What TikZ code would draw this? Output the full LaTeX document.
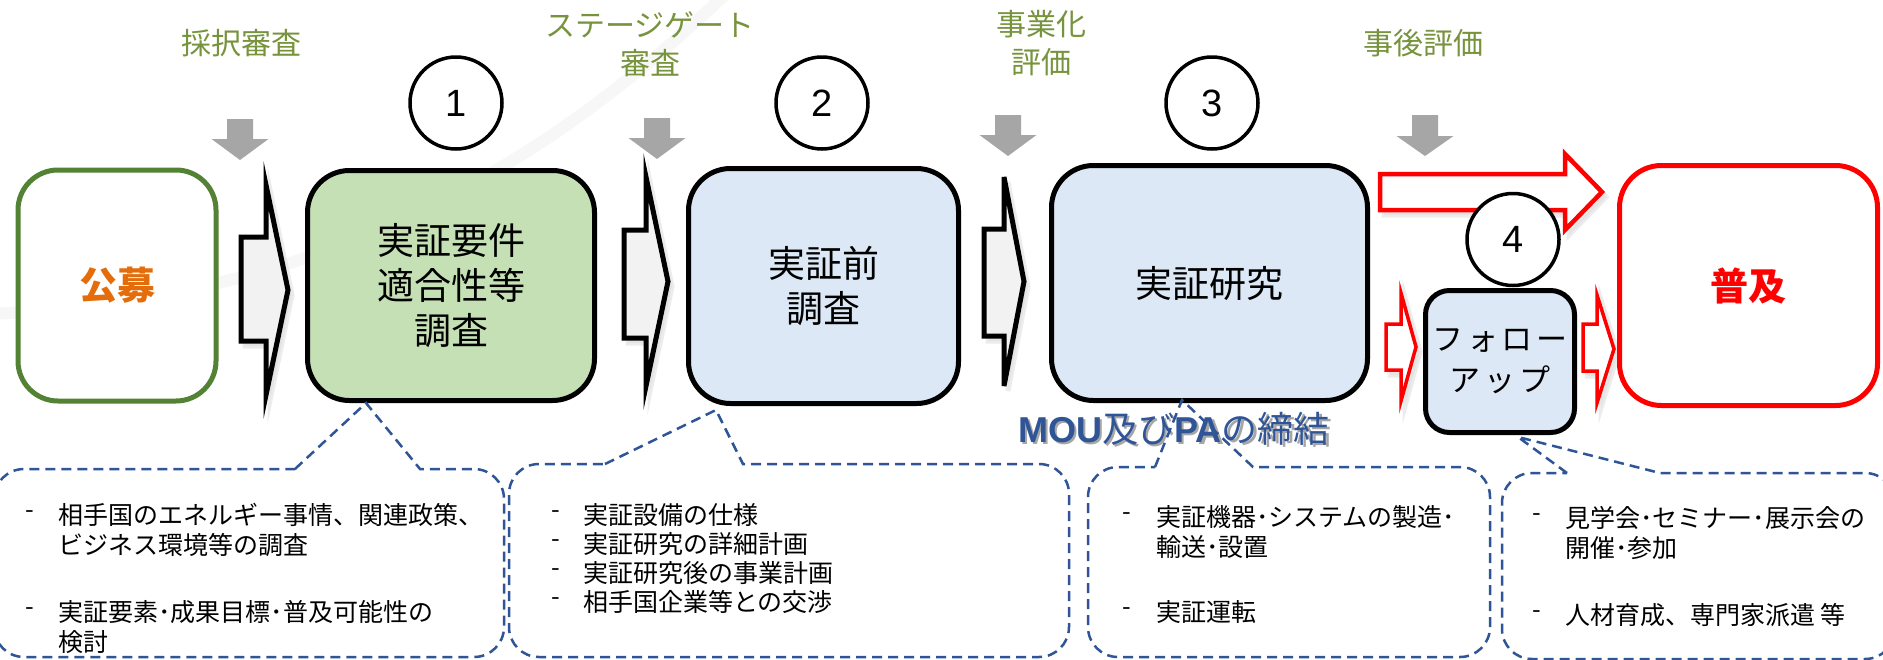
\documentclass[tikz,border=0pt]{standalone}
\usepackage{fontspec}
\setmainfont{Noto Sans CJK JP}
\newfontfamily\jp{Noto Sans CJK JP}
\newfontfamily\ar{Liberation Sans}
\definecolor{lblgreen}{RGB}{119,147,60}
\definecolor{bxgreen}{RGB}{197,224,180}
\definecolor{bxblue}{RGB}{220,232,245}
\definecolor{frgreen}{RGB}{84,130,53}
\definecolor{orng}{RGB}{228,108,10}
\definecolor{dblue}{RGB}{47,85,151}
\definecolor{arrgray}{RGB}{166,166,166}
\definecolor{arrfill}{RGB}{242,242,242}
\newcommand\grayarr[4]{\fill[arrgray] ({#1-13},#2) -- ({#1+13},#2) -- ({#1+13},#3) -- ({#1+28.5},#3) -- (#1,#4) -- ({#1-28.5},#3) -- ({#1-13},#3) -- cycle;}
\newcommand\blockarr[8]{\draw[#1] (#2,#7) -- (#3,#7) -- (#3,#5) -- (#4,{(#5+#6)/2}) -- (#3,#6) -- (#3,#8) -- (#2,#8) -- cycle;}
\newcommand\calloutshape[8]{%
\draw[cbox] (#5,#3) -- (#7,#8) -- (#6,#3) -- ({#2-30},#3) .. controls ({#2-13.4},#3) and (#2,{#3+13.4}) .. (#2,{#3+30}) -- (#2,{#4-30}) .. controls (#2,{#4-13.4}) and ({#2-13.4},#4) .. ({#2-30},#4) -- ({#1+30},#4) .. controls ({#1+13.4},#4) and (#1,{#4-13.4}) .. (#1,{#4-30}) -- (#1,{#3+30}) .. controls (#1,{#3+13.4}) and ({#1+13.4},#3) .. ({#1+30},#3) -- cycle;}
\begin{document}
\begin{tikzpicture}[x=1pt,y=-1pt,
  lbl/.style={text=lblgreen, font={\jp\fontsize{30}{38}\selectfont}, align=center, inner sep=0pt},
  box/.style={draw=black, line width=5pt, rounded corners=42pt, align=center, font={\jp\fontsize{37}{45}\selectfont}},
  circ/.style={circle, draw=black, line width=3.5pt, fill=white, minimum size=92pt, inner sep=0pt, font={\ar\fontsize{38}{40}\selectfont}},
  blk/.style={draw=black, fill=arrfill, line width=5pt, line join=miter},
  redar/.style={draw=red, fill=white, line width=4.5pt, line join=miter},
  redsm/.style={draw=red, fill=white, line width=3.5pt, line join=miter},
  shd/.style={draw=black!12, fill=black!12, line width=5pt, line join=miter, opacity=0.6},
  cbox/.style={draw=dblue, line width=2.5pt, dash pattern=on 10pt off 6pt},
  ctext/.style={anchor=west, inner sep=0pt, align=left, font={\jp\fontsize{25}{30}\selectfont}},
]
\useasboundingbox (0,0) rectangle (1883,659);
\fill[white] (0,0) rectangle (1883,659);
% faint background swoosh
\draw[line width=12pt, black!3] (-10,314) .. controls (300,300) and (520,190) .. (730,-10);
% gray down arrows
\grayarr{240}{119}{139}{160}
\grayarr{657}{118}{138}{159}
\grayarr{1008}{115}{135}{156}
\grayarr{1425}{115}{136}{156}
% top labels
\node[lbl] (t1) at (241,43) {採択審査};
\node[lbl] (t2) at (650,44) {ステージゲート\\審査};
\node[lbl] (t3) at (1041,43.5) {事業化\\評価};
\node[lbl] (t4) at (1423,43) {事後評価};
% shadows of arrows
\begin{scope}[shift={(4,5)}]
\blockarr{shd}{241}{266}{288}{185}{395}{237}{341}
\blockarr{shd}{624}{646}{668}{177}{386}{230}{338}
\blockarr{shd}{984}{1004}{1024}{177}{386}{229}{336}
\blockarr{shd}{1380}{1565}{1602}{154}{230}{174}{210}
\blockarr{shd}{1386}{1401}{1416}{293}{401}{324}{370}
\blockarr{shd}{1583}{1597}{1614}{295}{403}{324}{371}
\end{scope}
% block arrows
\blockarr{blk}{241}{266}{288}{185}{395}{237}{341}
\blockarr{blk}{624}{646}{668}{177}{386}{230}{338}
\blockarr{blk}{984}{1004}{1024}{177}{386}{229}{336}
% boxes
\node[box, draw=frgreen, fill=white, minimum width=198pt, minimum height=231pt, rounded corners=40pt] (koubo) at (117,285.5) {\textcolor{orng}{\fontsize{38}{40}\selectfont\bfseries 公募}};
\node[box, fill=bxgreen, minimum width=287pt, minimum height=230pt] (b1) at (451,285.5) {実証要件\\適合性等\\調査};
\node[box, fill=bxblue, minimum width=270pt, minimum height=235pt] (b2) at (823.5,286) {実証前\\調査};
\node[box, fill=bxblue, minimum width=316pt, minimum height=235pt] (b3) at (1209.5,283) {実証研究};
\node[box, draw=red, fill=white, minimum width=258pt, minimum height=240pt] (fk) at (1748.5,285.5) {\textcolor{red}{\fontsize{38}{40}\selectfont\bfseries 普及}};
% red arrows
\blockarr{redar}{1380}{1565}{1602}{154}{230}{174}{210}
\blockarr{redsm}{1386}{1401}{1416}{293}{401}{324}{370}
\blockarr{redsm}{1583}{1597}{1614}{295}{403}{324}{371}
\node[box, fill=bxblue, minimum width=149pt, minimum height=142pt, rounded corners=24pt, font={\jp\fontsize{31}{41}\selectfont\addfontfeature{LetterSpace=12}}] (b4) at (1500,361.5) {フォロー\\アップ};
% circles
\node[circ] (c1) at (456,103) {1};
\node[circ] (c2) at (822,103) {2};
\node[circ] (c3) at (1212,103) {3};
\node[circ] (c4) at (1513,239.5) {4};
% MOU label
\node[anchor=base west, inner sep=0pt, text=black!35] (moush) at (1020.5,444.5) {\fontsize{36}{40}\selectfont\ar\bfseries MOU\jp\mdseries 及び\ar\bfseries PA\jp\mdseries の締結};
\node[anchor=base west, inner sep=0pt, text=dblue] (mou) at (1018,442) {\fontsize{36}{40}\selectfont\ar\bfseries MOU\jp\mdseries 及び\ar\bfseries PA\jp\mdseries の締結};
% callouts
\coordinate (p1) at (366,403);
\coordinate (p2) at (716,410);
\coordinate (p3) at (1182,400);
\coordinate (p4) at (1518,437);
\calloutshape{-6}{504}{469}{657}{295}{420}{366}{403}
\calloutshape{509}{1069}{464}{657}{605}{743}{716}{410}
\calloutshape{1088}{1490}{467}{657}{1155}{1253}{1182}{400}
\calloutshape{1502}{1895}{473}{659}{1567}{1660}{1518}{437}
% callout texts
\node[ctext] (d11) at (25,515) {-};
\node[ctext] (i11) at (58,530) {相手国のエネルギー事情、関連政策、\\ビジネス環境等の調査};
\node[ctext] (d12) at (25,612) {-};
\node[ctext] (i12) at (58,627) {実証要素･成果目標･普及可能性の\\検討};
\node[ctext] (d21) at (551,515) {-};
\node[ctext] (d22) at (551,544) {-};
\node[ctext] (d23) at (551,573) {-};
\node[ctext] (d24) at (551,602) {-};
\node[ctext, font={\jp\fontsize{25}{29}\selectfont}] (i21) at (583,558.5) {実証設備の仕様\\実証研究の詳細計画\\実証研究後の事業計画\\相手国企業等との交渉};
\node[ctext] (d31) at (1122,517) {-};
\node[ctext] (i31) at (1156,532) {実証機器･システムの製造･\\輸送･設置};
\node[ctext] (d32) at (1122,612) {-};
\node[ctext] (i32) at (1156,612) {実証運転};
\node[ctext] (d41) at (1532,518) {-};
\node[ctext] (i41) at (1565,533) {見学会･セミナー･展示会の\\開催･参加};
\node[ctext] (d42) at (1532,615) {-};
\node[ctext] (i42) at (1565,615) {人材育成、専門家派遣 等};
\end{tikzpicture}
\end{document}
